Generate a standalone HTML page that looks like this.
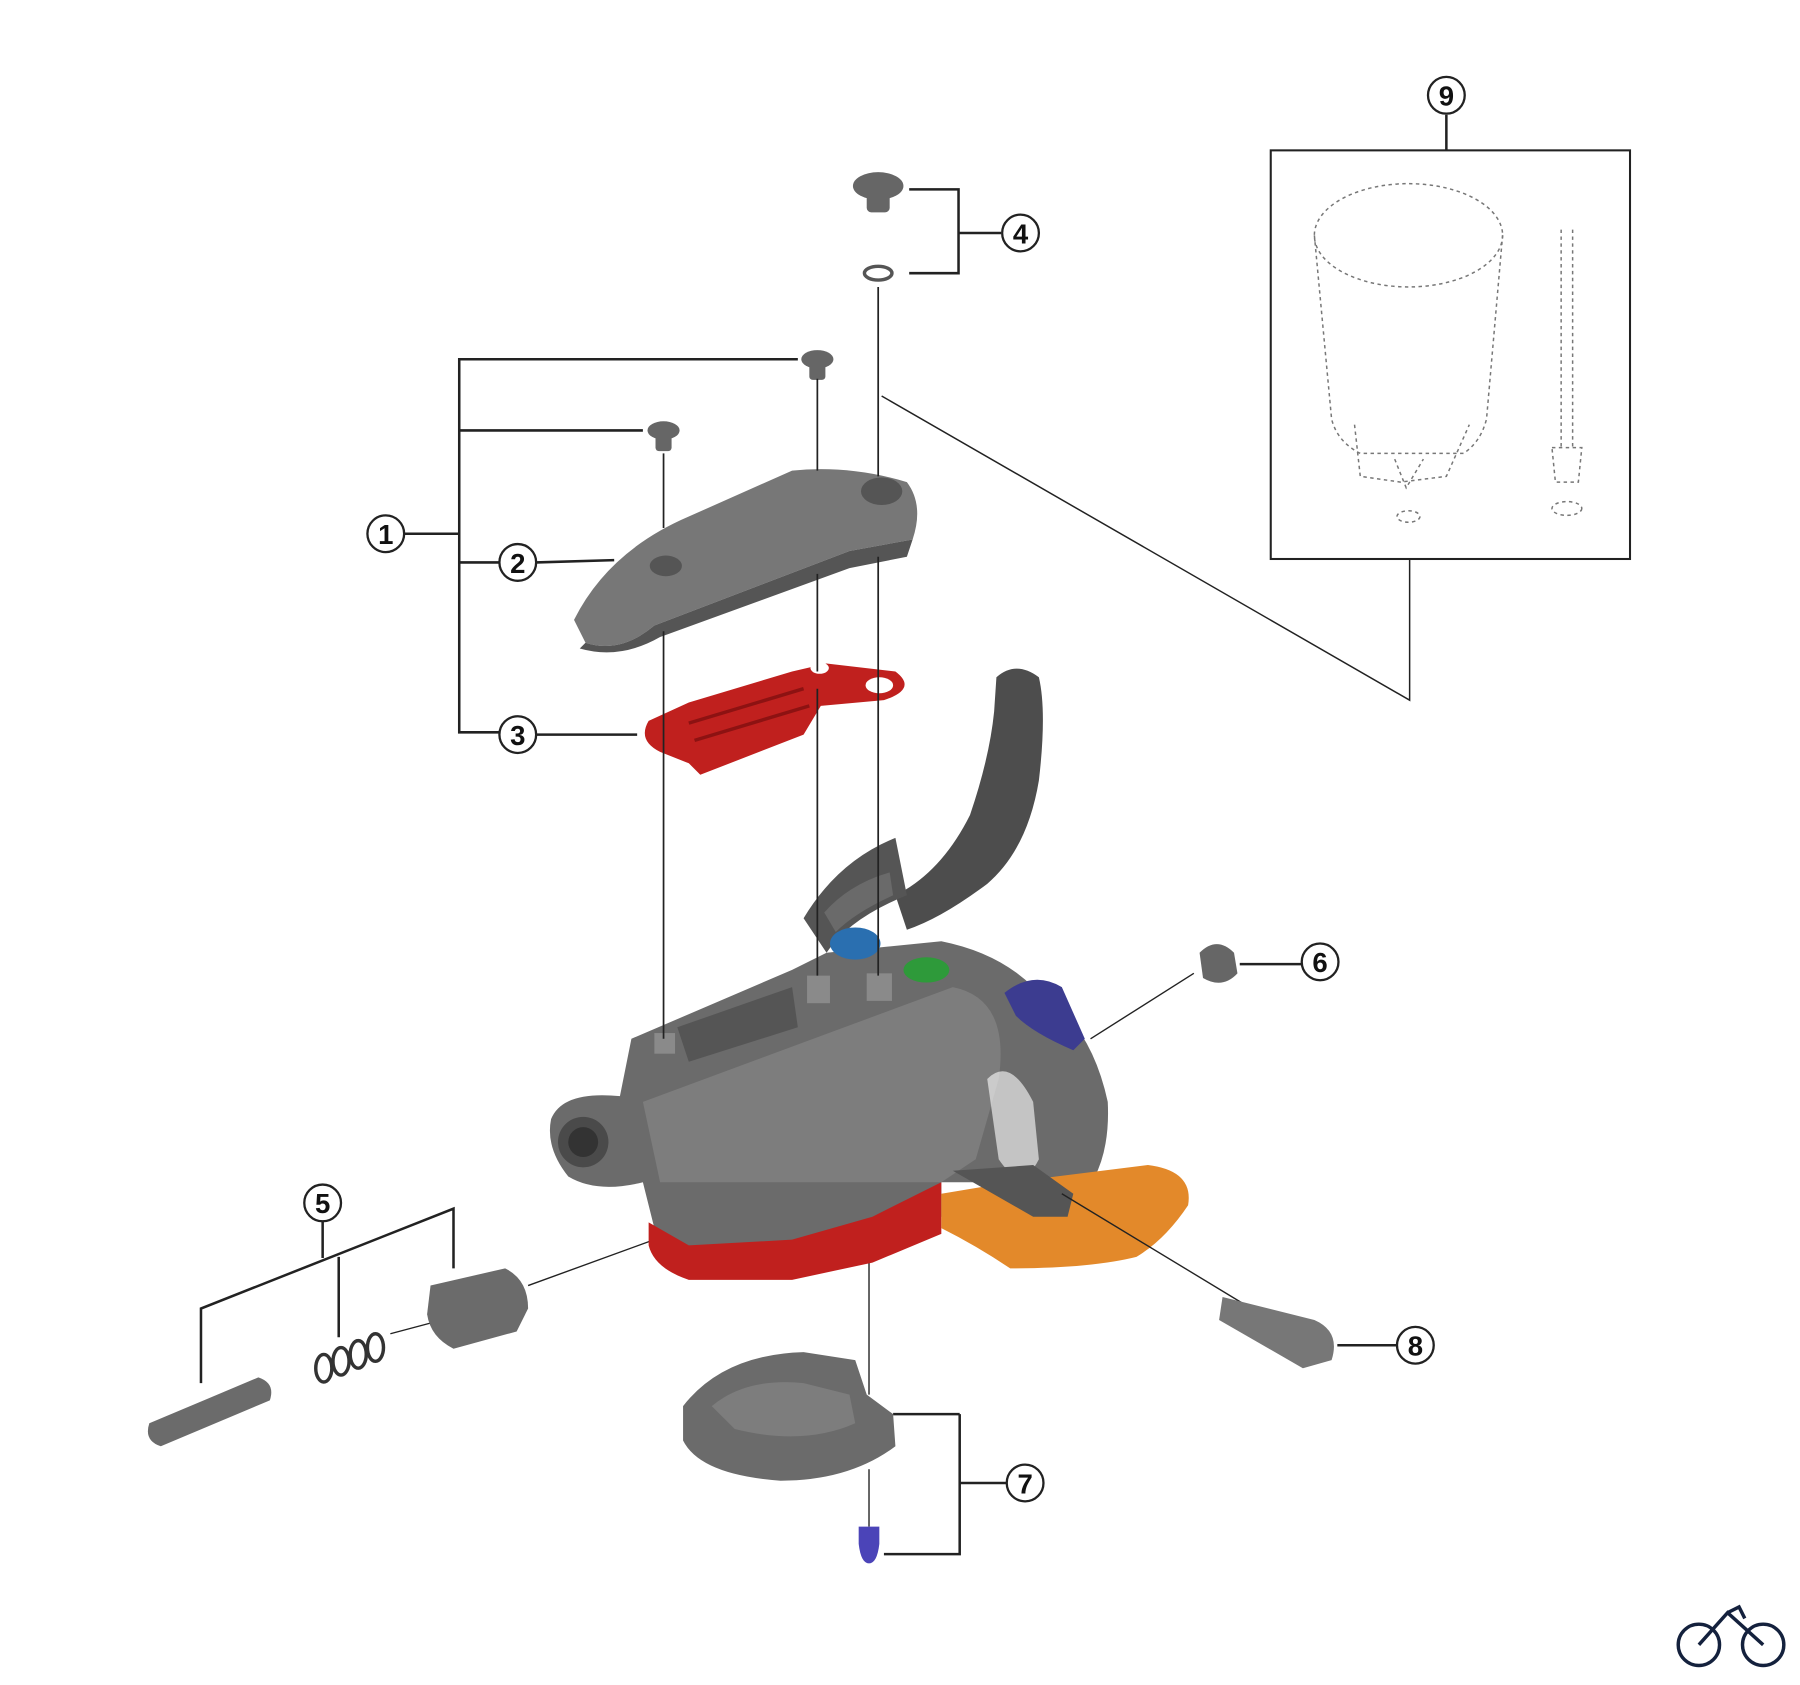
<!DOCTYPE html>
<html><head><meta charset="utf-8"><style>
html,body{margin:0;padding:0;background:#fff;}
svg{display:block;}
text{font-family:"Liberation Sans",sans-serif;font-weight:bold;}
</style></head><body>
<svg width="1800" height="1685" viewBox="0 0 1568 1468" xmlns="http://www.w3.org/2000/svg">
<g stroke="#222" stroke-width="2.2" fill="none">
<line x1="1260" y1="100" x2="1260" y2="131"/>
<rect x="1107" y="131" width="313" height="356" stroke-width="1.8"/>
<polyline points="1228,487 1228,610 768,345" stroke-width="1.3"/>
<polyline points="792,165 835,165 835,238 792,238"/>
<line x1="835" y1="203" x2="872" y2="203"/>
<polyline points="695,313 400,313 400,638 435,638"/>
<line x1="400" y1="375" x2="560" y2="375"/>
<line x1="352" y1="465" x2="400" y2="465"/>
<line x1="400" y1="490" x2="435" y2="490"/>
<line x1="467" y1="490" x2="535" y2="488"/>
<line x1="467" y1="640" x2="555" y2="640"/>
<line x1="281" y1="1064" x2="281" y2="1096"/>
<polyline points="175,1205 175,1140 395,1053 395,1105"/>
<line x1="295" y1="1095" x2="295" y2="1165"/>
<line x1="1080" y1="840" x2="1134" y2="840"/>
<line x1="1040" y1="848" x2="950" y2="905" stroke-width="1.2"/>
<line x1="1165" y1="1172" x2="1217" y2="1172"/>
<line x1="778" y1="1232" x2="836" y2="1232"/><polyline points="836,1232 836,1354 770,1354"/>
<line x1="836" y1="1292" x2="877" y2="1292"/>
<line x1="757" y1="1100" x2="757" y2="1215" stroke-width="1.2"/>
<line x1="757" y1="1280" x2="757" y2="1330" stroke-width="1.2"/>
<line x1="460" y1="1120" x2="570" y2="1080" stroke-width="1.2"/>
<line x1="340" y1="1162" x2="385" y2="1150" stroke-width="1.2"/>
</g>
<!-- dashed 9 parts -->
<g stroke="#777" stroke-width="1.3" fill="none" stroke-dasharray="3,3">
<ellipse cx="1227" cy="205" rx="82" ry="45"/>
<path d="M1145,205 L1160,365 Q1165,385 1185,395 L1275,395 Q1290,385 1295,365 L1309,205"/>
<path d="M1180,370 L1185,415 L1220,420 L1260,415 L1280,370"/>
<path d="M1215,400 L1225,425 L1240,400"/>
<ellipse cx="1227" cy="450" rx="10" ry="5"/>
<line x1="1360" y1="200" x2="1360" y2="390"/><line x1="1370" y1="200" x2="1370" y2="390"/>
<path d="M1352,390 L1378,390 L1375,420 L1355,420 Z"/>
<ellipse cx="1365" cy="443" rx="13" ry="6"/>
</g>
<!-- lever -->
<path d="M868,590 Q885,575 905,590 Q912,620 905,680 Q895,740 860,770 Q820,800 790,810 L780,780 Q820,760 845,710 Q862,660 866,620 Z" fill="#4d4d4d"/>
<path d="M700,800 Q730,750 780,730 L790,780 Q740,800 720,830 Z" fill="#555"/>
<path d="M718,795 Q740,770 775,760 L778,780 Q745,795 728,812 Z" fill="#6a6a6a"/>
<!-- top cover 2 -->
<path d="M500,540 Q530,480 600,450 L690,410 Q740,405 790,420 Q805,440 795,470 L740,480 L570,545 Q540,570 510,560 Z" fill="#777"/>
<path d="M510,560 Q540,570 570,545 L740,480 L795,470 L790,485 L740,495 L575,555 Q540,575 505,565 Z" fill="#555"/>
<ellipse cx="768" cy="428" rx="18" ry="12" fill="#555"/>
<ellipse cx="580" cy="493" rx="14" ry="9" fill="#555"/>
<!-- red spring 3 -->
<path d="M565,628 L600,612 L690,585 L720,578 L780,585 Q800,600 770,610 L715,615 L700,640 L610,675 L600,665 L575,655 Q555,645 565,628 Z" fill="#c0201e"/>
<path d="M600,630 L700,600 M605,645 L705,615" stroke="#8d1212" stroke-width="3"/>
<ellipse cx="766" cy="597" rx="12" ry="7" fill="#fff"/>
<ellipse cx="714" cy="582" rx="8" ry="5" fill="#fff"/>
<!-- screws -->
<g fill="#666">
<ellipse cx="765" cy="162" rx="22" ry="12"/><rect x="755" y="165" width="20" height="20" rx="4"/>
<ellipse cx="765" cy="238" rx="12" ry="6" fill="none" stroke="#555" stroke-width="3"/>
<ellipse cx="712" cy="313" rx="14" ry="8"/><rect x="705" y="313" width="14" height="18" rx="3"/>
<ellipse cx="578" cy="375" rx="14" ry="8"/><rect x="571" y="375" width="14" height="18" rx="3"/>
</g>
<!-- main body -->
<path d="M480,975 Q490,950 540,955 L550,905 L690,845 L720,830 L820,820 Q870,830 900,860 Q950,890 965,960 Q968,1020 935,1050 Q915,1065 890,1060 L870,1030 L820,1030 L820,1060 L760,1090 L590,1100 L570,1070 L560,1030 Q520,1040 495,1025 Q475,1000 480,975 Z" fill="#6b6b6b"/>
<path d="M560,960 L830,860 Q880,870 870,940 L850,1010 L820,1030 L575,1030 Z" fill="#7d7d7d"/>
<path d="M860,940 Q880,920 900,960 L905,1010 Q890,1040 870,1010 Z" fill="#fff" opacity=".6"/>
<circle cx="508" cy="995" r="22" fill="#4a4a4a"/><circle cx="508" cy="995" r="13" fill="#333"/>
<path d="M590,895 L690,860 L695,895 L600,925 Z" fill="#555"/>
<ellipse cx="745" cy="822" rx="22" ry="14" fill="#2a6fb0"/>
<ellipse cx="807" cy="845" rx="20" ry="11" fill="#2e9a3a"/>
<path d="M875,865 Q900,845 925,860 L945,905 L935,915 Q900,900 885,885 Z" fill="#3c3c90"/>
<!-- posts -->
<g fill="#8a8a8a"><rect x="570" y="900" width="18" height="18"/><rect x="703" y="850" width="20" height="24"/><rect x="755" y="848" width="22" height="24"/></g>
<!-- vertical assembly lines -->
<g stroke="#222" stroke-width="1.5">
<line x1="712" y1="330" x2="712" y2="410"/>
<line x1="712" y1="500" x2="712" y2="585"/>
<line x1="712" y1="600" x2="712" y2="850"/>
<line x1="578" y1="395" x2="578" y2="460"/>
<line x1="578" y1="550" x2="578" y2="905"/>
<line x1="765" y1="250" x2="765" y2="415"/>
<line x1="765" y1="485" x2="765" y2="850"/>
</g>
<!-- red lower body -->
<path d="M565,1065 L600,1085 L690,1080 L760,1060 L820,1030 L820,1075 L760,1100 L690,1115 L600,1115 Q570,1105 565,1085 Z" fill="#c0201e"/>
<!-- orange -->
<path d="M820,1040 L880,1030 L1000,1015 Q1040,1020 1035,1050 Q1015,1080 990,1095 Q950,1105 880,1105 Q850,1085 820,1070 Z" fill="#e3892a"/>
<path d="M830,1020 L900,1060 L930,1060 L935,1040 L900,1015 Z" fill="#555"/>
<g stroke="#222" stroke-width="1.2"><line x1="925" y1="1040" x2="1090" y2="1140"/></g>
<!-- 5 parts -->
<path d="M130,1240 L225,1200 Q240,1205 235,1220 L140,1260 Q125,1255 130,1240 Z" fill="#6b6b6b"/>
<g fill="none" stroke="#333" stroke-width="3">
<ellipse cx="282" cy="1192" rx="7" ry="12"/><ellipse cx="297" cy="1186" rx="7" ry="12"/><ellipse cx="312" cy="1180" rx="7" ry="12"/><ellipse cx="327" cy="1174" rx="7" ry="12"/>
</g>
<path d="M375,1120 L440,1105 Q460,1115 460,1140 L450,1160 L395,1175 Q375,1165 372,1145 Z" fill="#6b6b6b"/>
<!-- 6 -->
<path d="M1045,830 Q1060,815 1075,830 L1078,848 Q1065,862 1048,852 Z" fill="#666"/>
<!-- 8 -->
<path d="M1065,1130 L1145,1150 Q1168,1160 1160,1185 L1135,1192 L1062,1150 Z" fill="#777"/>
<!-- 7 -->
<path d="M595,1225 Q630,1180 700,1178 L745,1185 L755,1215 L778,1232 L780,1260 Q740,1290 680,1290 Q610,1285 595,1255 Z" fill="#6b6b6b"/>
<path d="M620,1225 Q650,1200 700,1205 L740,1215 L745,1240 Q700,1260 640,1245 Z" fill="#7d7d7d"/>
<path d="M748,1330 L766,1330 L766,1345 Q764,1362 757,1362 Q750,1362 748,1345 Z" fill="#4b44b8"/>
<!-- circled numbers -->
<g stroke="#222" stroke-width="2" fill="#fff">
<circle cx="1260" cy="83" r="16"/><circle cx="889" cy="203" r="16"/>
<circle cx="336" cy="465" r="16"/><circle cx="451" cy="490" r="16"/>
<circle cx="451" cy="640" r="16"/><circle cx="1150" cy="838" r="16"/>
<circle cx="281" cy="1048" r="16"/><circle cx="1233" cy="1172" r="16"/>
<circle cx="893" cy="1292" r="16"/>
</g>
<g font-size="24" text-anchor="middle" fill="#111">
<text x="1260" y="92">9</text><text x="889" y="212">4</text>
<text x="336" y="474">1</text><text x="451" y="499">2</text>
<text x="451" y="649">3</text><text x="1150" y="847">6</text>
<text x="281" y="1057">5</text><text x="1233" y="1181">8</text>
<text x="893" y="1301">7</text>
</g>
<g stroke="#14213d" stroke-width="3" fill="none">
<circle cx="1480" cy="1433" r="18"/><circle cx="1536" cy="1433" r="18"/>
<polyline points="1480,1433 1505,1405 1536,1433"/>
<path d="M1505,1405 L1515,1400 L1520,1410"/>
</g>
</svg>
</body></html>
